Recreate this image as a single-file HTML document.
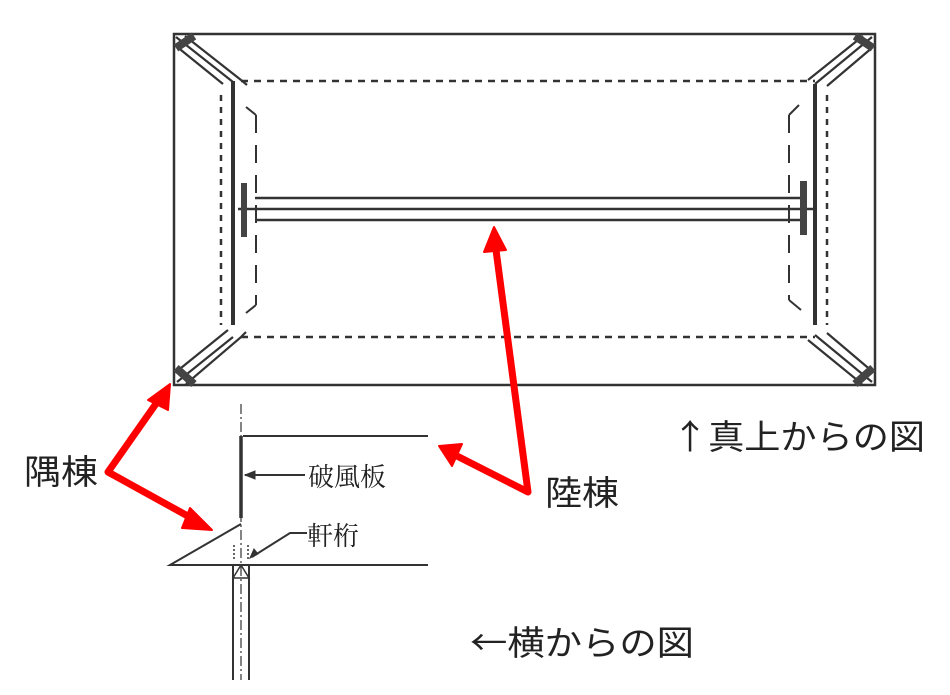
<!DOCTYPE html>
<html><head><meta charset="utf-8"><style>
html,body{margin:0;padding:0;background:#fff;}
svg{display:block;}
text{font-family:"Noto Sans CJK JP",sans-serif;fill:#222;}
</style></head><body>
<svg width="950" height="695" viewBox="0 0 950 695" xmlns="http://www.w3.org/2000/svg">
<g stroke="#333" fill="none">
<rect x="174" y="34" width="701" height="351" stroke-width="2.5"/>
<path d="M241 81 H815 M241 337 H815" stroke-width="2.5" stroke-dasharray="7,6"/>
<path d="M221 95 V325 M827 95 V325" stroke-width="2.5" stroke-dasharray="6,6"/>
<path d="M256 115 V305 M789 115 V300" stroke-width="2" stroke-dasharray="18,12"/>
<path d="M256 115 l-10 -8 M789 115 l10 -10 M789 300 l12 10 M256 305 l-10 8" stroke-width="2"/>
<path d="M233 81 V325" stroke-width="4"/>
<path d="M815 84 V325" stroke-width="4"/>
<!-- hips: three parallels -->
<path d="M176 37 L233 82 M185 36 L241 80 L247 85 M176 46 L223 84" stroke-width="2.2"/>
<path d="M177 382 L233 337 M176 372 L228 330 M186 384 L240 338 L246 332" stroke-width="2.2"/>
<path d="M872 37 L815 84 M863 36 L808 80 M873 47 L827 86" stroke-width="2.2"/>
<path d="M872 382 L815 335 M862 384 L808 340 M873 372 L827 333" stroke-width="2.2"/>
<path d="M176 48 L194 36" stroke-width="8" stroke="#444"/>
<path d="M176 368 L194 384" stroke-width="8" stroke="#444"/>
<path d="M873 48 L855 36" stroke-width="8" stroke="#444"/>
<path d="M873 368 L855 384" stroke-width="8" stroke="#444"/>
<path d="M255 198 H800 M238 209 H815 M255 220 H800" stroke-width="2.5"/>
<rect x="241" y="183" width="6" height="54" fill="#444" stroke="none"/>
<rect x="800" y="181" width="7" height="54" fill="#444" stroke="none"/>
<path d="M241 404 V680" stroke-width="1.2" stroke-dasharray="10,3,2,3"/>
<path d="M243 436 H428" stroke-width="2"/>
<path d="M241 436 V518" stroke-width="3.5"/>
<path d="M245 475 H305" stroke-width="2"/>
<path d="M245 475 l10 -4 v8 z" fill="#333" stroke-width="1"/>
<path d="M241 524 L170 565 H428" stroke-width="2"/>
<path d="M307 533 H290 L252 557" stroke-width="2"/>
<path d="M250 558 l4 -9 l4 5 z" fill="#333" stroke-width="1"/>
<path d="M233 565 V680 M249 565 V680" stroke-width="2"/>
<path d="M233 578 L241 565 L249 578 Z" stroke-width="1.5"/>
<path d="M234 545 V560 M248 545 V560" stroke-width="1.5" stroke-dasharray="2,2"/>
</g>
<g stroke="#f00" stroke-width="7" fill="#f00" stroke-linecap="round" stroke-linejoin="round">
<path d="M108 472 L160 398 M108 472 L195 520 M528 492 L496 250 M528 492 L455 455" fill="none"/>
<path d="M170 384 L148 400 L168 410 Z" stroke-width="2"/>
<path d="M212 530 L190 508 L182 528 Z" stroke-width="2"/>
<path d="M494 227 L484 252 L506 250 Z" stroke-width="2"/>
<path d="M439 446 L462 444 L452 466 Z" stroke-width="2"/>
</g>
<text x="672" y="449" font-size="34" textLength="253" lengthAdjust="spacingAndGlyphs">↑真上からの図</text>
<text x="24" y="484" font-size="34" textLength="74" lengthAdjust="spacingAndGlyphs">隅棟</text>
<text x="545" y="505" font-size="34" textLength="74" lengthAdjust="spacingAndGlyphs">陸棟</text>
<text x="470" y="655" font-size="34" textLength="224" lengthAdjust="spacingAndGlyphs">←横からの図</text>
<text x="308" y="486" font-size="26" style="font-family:'Noto Serif CJK SC',serif">破風板</text>
<text x="307" y="545" font-size="26" style="font-family:'Noto Serif CJK SC',serif">軒桁</text>
</svg>
</body></html>
